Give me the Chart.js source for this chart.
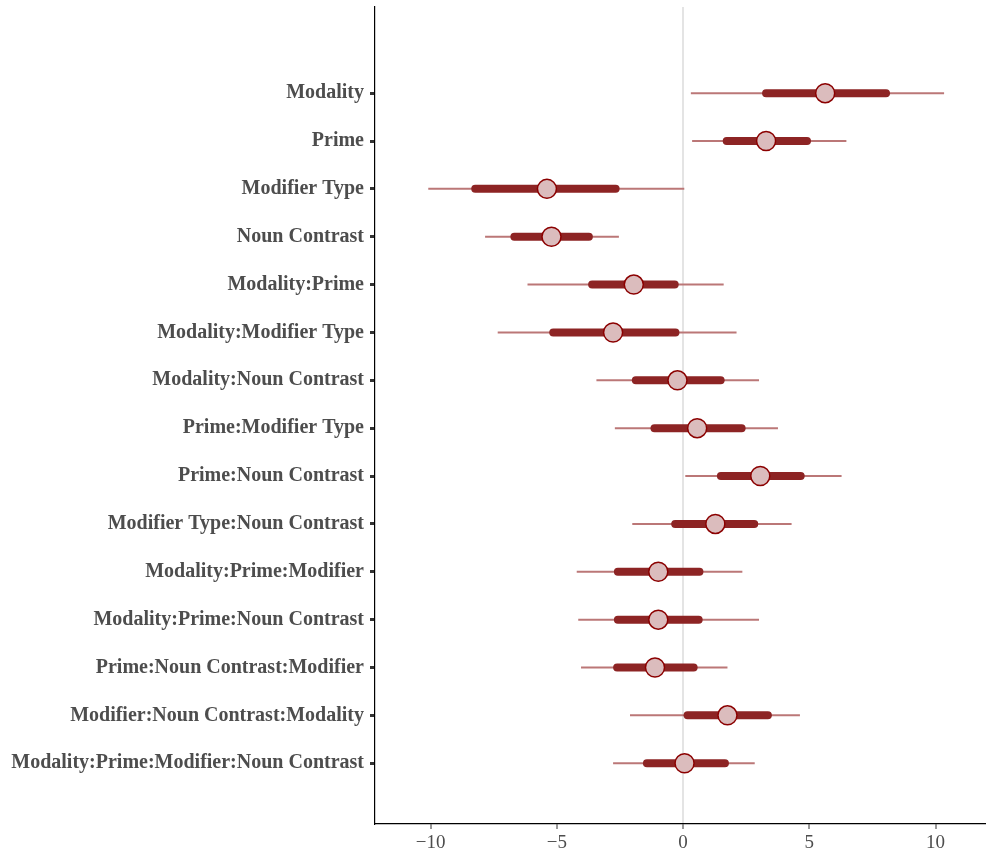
<!DOCTYPE html>
<html>
<head>
<meta charset="utf-8">
<title>Coefficient intervals</title>
<script src="https://cdn.jsdelivr.net/npm/chart.js@4/dist/chart.umd.min.js"></script>
<style>
  html, body { margin: 0; padding: 0; background: #ffffff; }
  #wrap { position: relative; width: 986px; height: 852px; }
</style>
</head>
<body>
<div id="wrap"><canvas id="chart"></canvas></div>
<script>
// Model terms, top to bottom
const terms = [
  "Modality",
  "Prime",
  "Modifier Type",
  "Noun Contrast",
  "Modality:Prime",
  "Modality:Modifier Type",
  "Modality:Noun Contrast",
  "Prime:Modifier Type",
  "Prime:Noun Contrast",
  "Modifier Type:Noun Contrast",
  "Modality:Prime:Modifier",
  "Modality:Prime:Noun Contrast",
  "Prime:Noun Contrast:Modifier",
  "Modifier:Noun Contrast:Modality",
  "Modality:Prime:Modifier:Noun Contrast"
];

// Point estimates
const estimate = [5.63, 3.29, -5.39, -5.21, -1.95, -2.77, -0.22, 0.56, 3.06, 1.28, -0.98, -0.98, -1.11, 1.76, 0.06];

// Inner (thick) interval
const innerLow  = [3.29, 1.73, -8.23, -6.68, -3.60, -5.14, -1.87, -1.13, 1.50, -0.31, -2.58, -2.58, -2.61, 0.18, -1.43];
const innerHigh = [8.04, 4.91, -2.67, -3.73, -0.33, -0.30, 1.49, 2.32, 4.66, 2.82, 0.65, 0.62, 0.42, 3.36, 1.66];

// Outer (thin) interval
const outerLow  = [0.31, 0.36, -10.09, -7.84, -6.16, -7.34, -3.43, -2.70, 0.09, -2.01, -4.21, -4.15, -4.04, -2.10, -2.77];
const outerHigh = [10.34, 6.47, 0.05, -2.54, 1.61, 2.12, 3.01, 3.76, 6.28, 4.30, 2.35, 3.01, 1.76, 4.63, 2.84];

// Axis ticks
const xTicks = [-10, -5, 0, 5, 10];

const datasets = [];

terms.forEach((t, i) => {
  datasets.push({
    type: 'scatter',
    showLine: true,
    data: [{ x: outerLow[i], y: i }, { x: outerHigh[i], y: i }],
    borderColor: '#bb7777',
    borderWidth: 2,
    borderCapStyle: 'butt',
    pointRadius: 0,
    pointHoverRadius: 0,
    order: 3
  });
  datasets.push({
    type: 'scatter',
    showLine: true,
    data: [{ x: innerLow[i], y: i }, { x: innerHigh[i], y: i }],
    borderColor: '#8d2424',
    borderWidth: 8,
    borderCapStyle: 'round',
    pointRadius: 0,
    pointHoverRadius: 0,
    order: 2
  });
});

datasets.push({
  type: 'scatter',
  data: estimate.map((v, i) => ({ x: v, y: i })),
  backgroundColor: '#dbbcbd',
  borderColor: '#8b0000',
  borderWidth: 1.5,
  pointRadius: 9.5,
  pointHoverRadius: 9.5,
  order: 1
});

const axisFont = 'Liberation Serif';

new Chart(document.getElementById('chart'), {
  type: 'scatter',
  data: { datasets },
  options: {
    responsive: true,
    maintainAspectRatio: false,
    animation: false,
    devicePixelRatio: 1,
    layout: { autoPadding: false, padding: { top: 7, right: 0, bottom: 0, left: 0 } },
    plugins: {
      legend: { display: false },
      tooltip: { enabled: false }
    },
    scales: {
      x: {
        type: 'linear',
        min: -12.2,
        max: 12,
        afterBuildTicks: axis => { axis.ticks = xTicks.map(v => ({ value: v })); },
        afterFit: scale => {
          scale.height = 28;
          scale.paddingLeft = 0;
          scale.paddingRight = 0;
        },
        border: { display: true, color: '#000000', width: 1.2 },
        grid: {
          display: true,
          drawOnChartArea: true,
          color: ctx => (ctx.tick && ctx.tick.value === 0) ? '#e4e4e4' : 'rgba(0,0,0,0)',
          lineWidth: 2,
          tickColor: '#333333',
          tickWidth: 1,
          tickLength: 5
        },
        ticks: {
          padding: 3,
          color: '#4d4d4d',
          font: { family: axisFont, size: 19 },
          callback: v => String(v).replace('-', '\u2212')
        }
      },
      y: {
        type: 'linear',
        reverse: true,
        min: -1.8,
        max: 15.27,
        afterBuildTicks: axis => { axis.ticks = terms.map((_, i) => ({ value: i })); },
        afterFit: scale => {
          scale.width = 375;
          scale.paddingTop = 0;
          scale.paddingBottom = 0;
        },
        border: { display: true, color: '#000000', width: 1.2 },
        grid: {
          display: true,
          drawOnChartArea: false,
          color: 'rgba(0,0,0,0)',
          tickColor: '#333333',
          tickWidth: 3,
          tickLength: 5
        },
        ticks: {
          padding: 6,
          color: '#4d4d4d',
          font: { family: axisFont, size: 20, weight: 'bold' },
          callback: v => terms[v]
        }
      }
    }
  }
});
</script>
</body>
</html>
